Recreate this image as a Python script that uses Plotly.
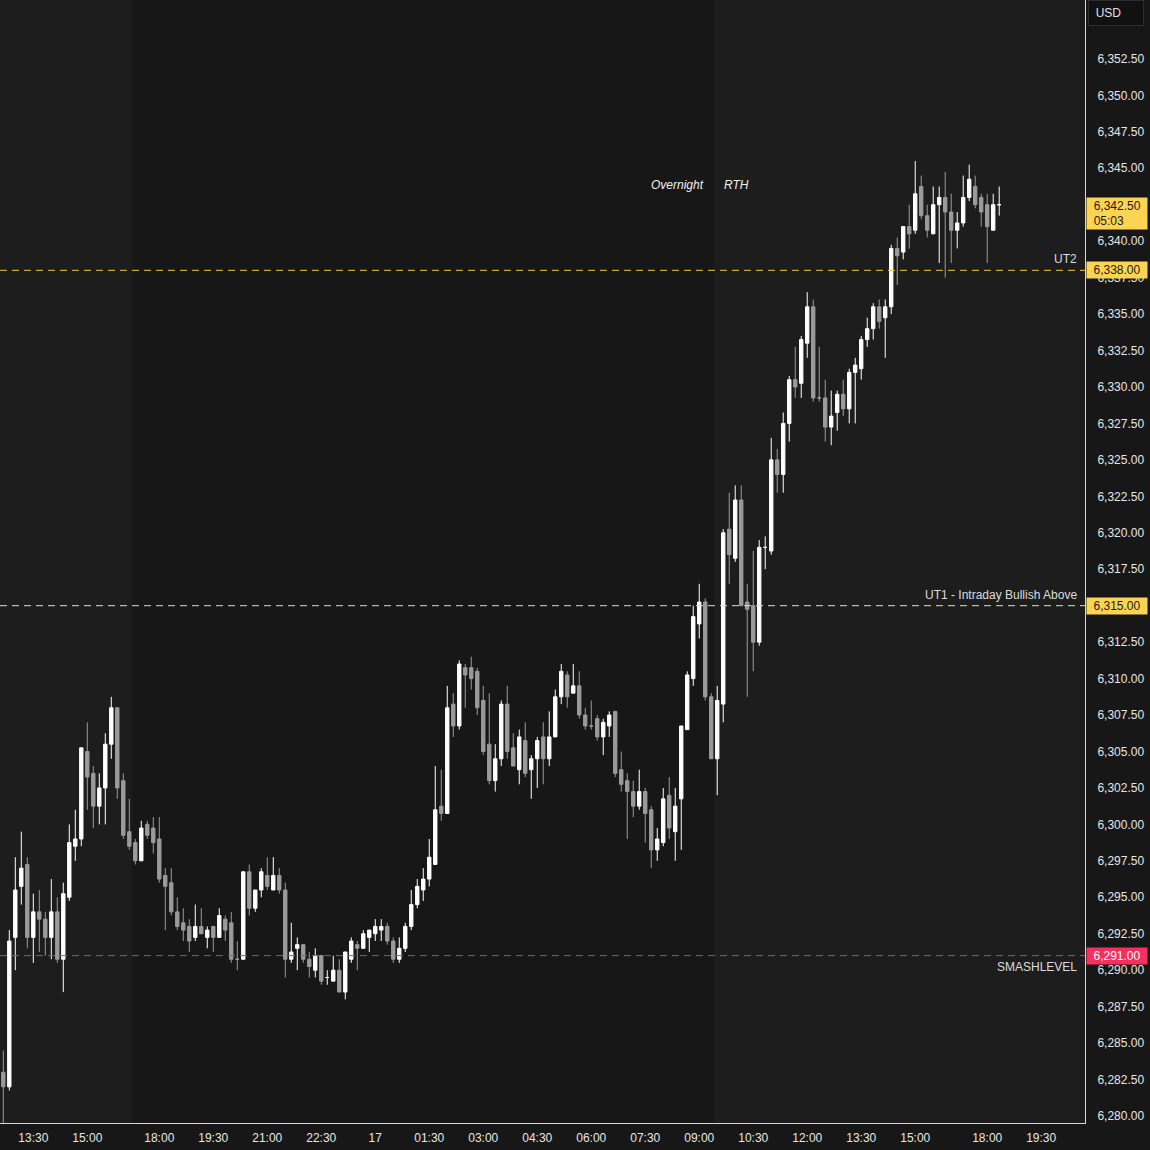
import pandas as pd
import plotly.graph_objects as go

# ---------------- data (10-minute candles) ----------------
opens = [6283, 6282, 6292.25, 6295.75, 6297.25, 6292.25, 6294, 6293.5, 6292.25, 6294,
         6290.75, 6295, 6298.5, 6299, 6305, 6303.5, 6301.25, 6302.5, 6305.5, 6308,
         6303, 6299.5, 6298.75, 6297.5, 6300, 6299.75, 6299, 6296.5, 6296, 6294,
         6293.25, 6293, 6292.25, 6293, 6292.25, 6293, 6292.25, 6293.5, 6293.25, 6290.75,
         6290.75, 6296.75, 6294.25, 6295.5, 6296.5, 6295.5, 6296.5, 6295.5, 6290.75, 6291.5,
         6291.75, 6290.75, 6290, 6291, 6289.5, 6289.25, 6290, 6288.5, 6290.75, 6291.75,
         6291.5, 6292.25, 6292.5, 6292.75, 6293, 6292, 6290.75, 6291.5, 6293, 6294.5,
         6295.5, 6296.25, 6297.25, 6301.25, 6300.75, 6308.25, 6306.75, 6310.75, 6310.75, 6310.5,
         6308.5, 6305.5, 6303, 6304.5, 6308.25, 6305.25, 6303.75, 6305.75, 6303.75, 6304.5,
         6306, 6304.5, 6306, 6308.75, 6310.25, 6309, 6309.5, 6307.5, 6306.75, 6307.25,
         6306, 6306.75, 6307.75, 6303.75, 6303, 6302.25, 6301.25, 6302.25, 6301, 6298.25,
         6298.75, 6302, 6299.5, 6301.75, 6306.5, 6310, 6313.75, 6315.25, 6308.75, 6304.5,
         6308.25, 6320.25, 6318.25, 6322.25, 6315.25, 6315, 6312.5, 6319, 6318.75, 6325,
         6324, 6327.5, 6330.5, 6330.25, 6333, 6335.5, 6329.25, 6329.25, 6327.25, 6328.25,
         6329.5, 6328.5, 6331, 6331.25, 6333.25, 6334, 6335.5, 6334.75, 6335.5, 6339.5,
         6339.25, 6341, 6340.75, 6343.75, 6341.75, 6340.5, 6342.5, 6343, 6342, 6340.75,
         6341.25, 6343, 6343.75, 6343, 6342.5, 6340.75, 6342.5]
highs = [6284.5, 6292.75, 6297.75, 6299.5, 6297.75, 6295.25, 6295.5, 6294, 6296.25, 6295,
         6296, 6300, 6301, 6305.25, 6307, 6304, 6303.5, 6306.25, 6308.75, 6308,
         6303.5, 6301.75, 6299, 6300.25, 6300.25, 6300.5, 6300.5, 6297, 6297, 6295,
         6294.25, 6293.5, 6294.5, 6294.25, 6293, 6293, 6294.25, 6293.75, 6294, 6292,
         6296.75, 6297.25, 6295.5, 6297, 6297.75, 6297.75, 6297, 6296, 6293.25, 6292.25,
         6291.75, 6291.25, 6291.5, 6291, 6290, 6291, 6290.75, 6291.25, 6292.25, 6292,
         6292.75, 6292.75, 6293.5, 6293.5, 6293.25, 6292.25, 6292.25, 6293.25, 6295.5, 6296.25,
         6297, 6299, 6304, 6303.75, 6309.5, 6309, 6311.25, 6311, 6311.5, 6310.75,
         6309.5, 6309, 6305.5, 6308.5, 6309.5, 6306.25, 6306.5, 6307, 6304.75, 6306,
         6307, 6307.75, 6309.25, 6311, 6310.5, 6311, 6310.5, 6308, 6308.5, 6307.5,
         6307.25, 6307.75, 6307.75, 6305, 6303.5, 6303, 6303.75, 6302.5, 6301.25, 6299.75,
         6302.5, 6303.25, 6302.5, 6306.75, 6310.5, 6315, 6316.5, 6315.5, 6309, 6309.5,
         6320.25, 6322.75, 6323.25, 6323.25, 6316.5, 6318.75, 6319.5, 6319.75, 6326.5, 6325.75,
         6328.25, 6330.75, 6332.75, 6333.5, 6336.5, 6336, 6332.75, 6330.5, 6329.75, 6329.75,
         6330.5, 6331.25, 6332, 6333.5, 6334.75, 6335.75, 6336, 6336, 6339.75, 6340.25,
         6341, 6342.5, 6345.5, 6344.5, 6342.5, 6343.75, 6343.75, 6344.75, 6343.25, 6342,
         6344.5, 6345.25, 6344.5, 6343.25, 6343.25, 6343.25, 6343.75]
lows = [6279.5, 6281.75, 6290, 6294.5, 6291.5, 6290.5, 6291.25, 6291, 6290.75, 6290.5,
        6288.5, 6294.75, 6297.5, 6298.5, 6301, 6299.75, 6300, 6300, 6304.5, 6301.75,
        6299, 6298.25, 6297.25, 6297.5, 6299, 6298, 6296, 6292.75, 6293.75, 6292.75,
        6292, 6291.25, 6292, 6292.5, 6291.5, 6291.25, 6292.25, 6292, 6290.5, 6290,
        6290.75, 6293.75, 6294, 6295, 6295.5, 6295.5, 6295.25, 6289.5, 6290.5, 6290,
        6290.5, 6289.5, 6289.5, 6289, 6289, 6289.25, 6288.5, 6288, 6290.5, 6290,
        6291.5, 6291.25, 6292, 6292, 6291.75, 6290.5, 6290.5, 6291.25, 6292.75, 6294.25,
        6294.75, 6295.75, 6297.25, 6300.25, 6300.75, 6306, 6306.5, 6308, 6309.25, 6307.5,
        6304.75, 6302.75, 6302.25, 6304, 6304.5, 6304, 6302.75, 6303.25, 6301.75, 6302.5,
        6302.75, 6304, 6306, 6308.25, 6308, 6309, 6307.25, 6306.5, 6306.5, 6305.75,
        6304.75, 6306, 6303.25, 6302.25, 6299, 6300.5, 6301, 6298.75, 6297, 6297.5,
        6298.5, 6299, 6297.5, 6298.25, 6306.5, 6309.5, 6312.75, 6308.5, 6304.5, 6302,
        6307, 6316.5, 6318, 6315, 6308.75, 6310.5, 6312.25, 6317.5, 6318.5, 6322.75,
        6322.75, 6326.25, 6329.25, 6329.25, 6332, 6329, 6329, 6326.25, 6326, 6327,
        6328, 6327.5, 6327.5, 6330.5, 6332.75, 6333.25, 6334, 6332, 6335, 6337,
        6338.75, 6339.5, 6340.5, 6341.5, 6340.25, 6340.5, 6338.5, 6337.5, 6338.5, 6339.5,
        6341, 6342.75, 6342.25, 6341, 6338.5, 6340.75, 6341.75]
closes = [6282, 6292, 6295.5, 6297, 6292.25, 6294, 6293.5, 6292.25, 6294, 6290.75,
          6295.25, 6298.75, 6299, 6305.25, 6303.25, 6301.25, 6302.5, 6305.5, 6308, 6302.5,
          6299.25, 6298.5, 6297.5, 6299.75, 6299.25, 6298.75, 6296.25, 6295.75, 6294, 6293,
          6292.75, 6292, 6293, 6292.5, 6292.75, 6292.25, 6293.75, 6292.75, 6290.75, 6290.75,
          6296.75, 6294.25, 6295.5, 6296.75, 6295.75, 6296.5, 6295.5, 6290.75, 6291.25, 6291.75,
          6290.75, 6290.25, 6291, 6289.25, 6289.5, 6290, 6288.5, 6291.25, 6292, 6291.5,
          6292.5, 6292.75, 6293, 6293, 6292, 6290.75, 6291.5, 6293, 6294.5, 6295.75,
          6296.25, 6297.75, 6301, 6300.75, 6308, 6306.75, 6311, 6310.25, 6310, 6308,
          6305, 6303, 6304.5, 6308.25, 6305, 6304, 6306, 6303.5, 6304.5, 6305.75,
          6304.5, 6306, 6308.75, 6310.5, 6308.75, 6309.5, 6307.5, 6306.75, 6306.75, 6306,
          6307, 6307.5, 6303.5, 6302.75, 6302.25, 6301.25, 6302.25, 6300.75, 6298.25, 6299,
          6301.75, 6299.75, 6301.25, 6306.75, 6310.25, 6314.25, 6315.25, 6308.75, 6304.5, 6308.5,
          6320, 6318.5, 6322.25, 6315, 6314.75, 6312.5, 6319, 6319, 6325, 6324,
          6327.5, 6330.5, 6330, 6333.25, 6335.5, 6329.25, 6329.25, 6327.25, 6328, 6329.5,
          6328.5, 6331, 6331.5, 6333.25, 6334, 6335.5, 6334.5, 6335.5, 6339.5, 6339,
          6341, 6340.5, 6343.25, 6341.75, 6340.75, 6342.5, 6343, 6342, 6340.75, 6341.25,
          6343, 6344.25, 6342.5, 6342, 6341, 6342.5, 6342.5]

# session layout (ET): day-1 afternoon, then globex session starting 18:00
session1_start, session1_end = "2025-07-16 12:40", "2025-07-16 16:50"
session2_start, session2_end = "2025-07-16 18:00", "2025-07-17 16:50"
session3_start, session3_end = "2025-07-17 18:00", "2025-07-17 20:30"

tick_times = ["2025-07-16 13:30", "2025-07-16 15:00", "2025-07-16 18:00", "2025-07-16 19:30",
              "2025-07-16 21:00", "2025-07-16 22:30", "2025-07-17 00:00", "2025-07-17 01:30",
              "2025-07-17 03:00", "2025-07-17 04:30", "2025-07-17 06:00", "2025-07-17 07:30",
              "2025-07-17 09:00", "2025-07-17 10:30", "2025-07-17 12:00", "2025-07-17 13:30",
              "2025-07-17 15:00", "2025-07-17 18:00", "2025-07-17 19:30"]
tick_labels = ["13:30", "15:00", "18:00", "19:30", "21:00", "22:30", "17", "01:30", "03:00",
               "04:30", "06:00", "07:30", "09:00", "10:30", "12:00", "13:30", "15:00", "18:00", "19:30"]

overnight_start = "2025-07-16 16:15"   # end of RTH day 1
rth_start = "2025-07-17 09:30"         # start of RTH day 2

level_prices = [6338.0, 6315.0, 6291.0]
level_names = ["UT2", "UT1 - Intraday Bullish Above", "SMASHLEVEL"]
level_line_colors = ["#f7c63c", "#eedc96", "#cf3c66"]
level_box_colors = ["#fdd452", "#fdd452", "#f5305f"]
level_text_colors = ["#1a1a1a", "#1a1a1a", "#ffffff"]

last_price = 6342.5
countdown = "05:03"

price_ticks = [6280 + 2.5 * k for k in range(30)]

# ---------------- build time index ----------------
times = list(pd.date_range(session1_start, session1_end, freq="10min")) + \
        list(pd.date_range(session2_start, session2_end, freq="10min")) + \
        list(pd.date_range(session3_start, session3_end, freq="10min"))
pos = {t: i for i, t in enumerate(times)}
n = len(closes)
x = list(range(n))


def t2x(ts):
    ts = pd.Timestamp(ts)
    if ts in pos:
        return pos[ts]
    before = max(i for i, t in enumerate(times) if t <= ts)
    return before + (ts - times[before]) / pd.Timedelta("10min")


tickvals = [t2x(t) for t in tick_times]
x_on = t2x(overnight_start)
x_rth = t2x(rth_start) - 0.5

# price-axis labels hidden under the coloured price boxes
covered = set(level_prices) | {last_price}
shown_ticks = [p for p in price_ticks if p not in covered]

UP, DOWN = "#ffffff", "#9b9b9b"
BG_DARK, BG_LIGHT = "#171717", "#1d1d1d"
AX = "#d6d6d6"
FONT = "Liberation Sans, Arial, sans-serif"
NB = "\u00a0"

fig = go.Figure()
fig.add_trace(go.Candlestick(
    x=x, open=opens, high=highs, low=lows, close=closes,
    increasing=dict(line=dict(color=UP, width=1), fillcolor=UP),
    decreasing=dict(line=dict(color=DOWN, width=1), fillcolor=DOWN),
    whiskerwidth=0, hoverinfo="skip", showlegend=False,
))

x_lo, x_hi = -0.55, 180.3
shapes = [
    dict(type="rect", xref="x", yref="paper", x0=x_lo, x1=x_on, y0=0, y1=1,
         fillcolor=BG_LIGHT, line=dict(width=0), layer="below"),
    dict(type="rect", xref="x", yref="paper", x0=x_rth, x1=x_hi, y0=0, y1=1,
         fillcolor=BG_LIGHT, line=dict(width=0), layer="below"),
]
annotations = []
for p, name, lc, bc, tc in zip(level_prices, level_names, level_line_colors,
                               level_box_colors, level_text_colors):
    shapes.append(dict(type="line", xref="paper", yref="y", x0=0, x1=1, y0=p, y1=p,
                       line=dict(color=lc, width=1, dash="7px,5px"), layer="above"))
    below = name == "SMASHLEVEL"
    annotations.append(dict(xref="paper", yref="y", x=1, y=p, xanchor="right",
                            yanchor="top" if below else "bottom",
                            xshift=-6, yshift=-2 if below else 2, showarrow=False,
                            text=name, font=dict(family=FONT, size=12, color="#dcdcdc")))
    annotations.append(dict(xref="paper", yref="y", x=1, y=p, xanchor="left", yanchor="middle",
                            xshift=1, showarrow=False, text=f"{p:,.2f}", align="center",
                            width=60, height=16, bgcolor=bc, borderpad=0,
                            font=dict(family=FONT, size=12, color=tc)))

annotations.append(dict(xref="paper", yref="y", x=1, y=last_price, xanchor="left", yanchor="top",
                        xshift=1, yshift=8, showarrow=False,
                        text=f"{NB}{NB}{last_price:,.2f}<br>{NB}{NB}{countdown}", align="left",
                        width=60, height=31, bgcolor="#fdd452", borderpad=0,
                        font=dict(family=FONT, size=12, color="#1a1a1a")))
annotations.append(dict(xref="paper", yref="paper", x=1, y=1, xanchor="left", yanchor="top",
                        xshift=3, yshift=0, showarrow=False, text=f"{NB}{NB}USD", align="left",
                        width=54, height=24, bgcolor="#111111", bordercolor="#2e2e2e",
                        borderwidth=1, borderpad=0,
                        font=dict(family=FONT, size=12, color="#e0e0e0")))
annotations.append(dict(xref="x", yref="paper", x=x_rth, y=1 - 185 / 1123, xanchor="right",
                        yanchor="middle", xshift=-8, showarrow=False, text="<i>Overnight</i>",
                        font=dict(family=FONT, size=12, color="#f0f0f0")))
annotations.append(dict(xref="x", yref="paper", x=x_rth, y=1 - 185 / 1123, xanchor="left",
                        yanchor="middle", xshift=8, showarrow=False, text="<i>RTH</i>",
                        font=dict(family=FONT, size=12, color="#f0f0f0")))

fig.update_layout(
    width=1150, height=1150,
    margin=dict(l=0, r=65, t=0, b=27),
    paper_bgcolor=BG_DARK, plot_bgcolor=BG_DARK,
    boxgap=0.2,
    shapes=shapes, annotations=annotations,
    font=dict(family=FONT, size=12, color="#dedede"),
    xaxis=dict(range=[x_lo, x_hi], rangeslider=dict(visible=False), showgrid=False,
               zeroline=False, tickmode="array", tickvals=tickvals, ticktext=tick_labels,
               ticks="", ticklabelstandoff=4, showline=True, linecolor=AX, linewidth=1,
               tickfont=dict(family=FONT, size=12, color="#e6e6e6")),
    yaxis=dict(range=[6279.52, 6356.54], side="right", showgrid=False, zeroline=False,
               tickmode="array", tickvals=shown_ticks, tickformat=",.2f", ticks="",
               ticklabelstandoff=9, showline=True, linecolor=AX, linewidth=1,
               tickfont=dict(family=FONT, size=12, color="#e6e6e6")),
)

fig.write_html("out.html", config={"displayModeBar": False},
               post_script="document.body.style.margin='0';document.body.style.overflow='hidden';")
